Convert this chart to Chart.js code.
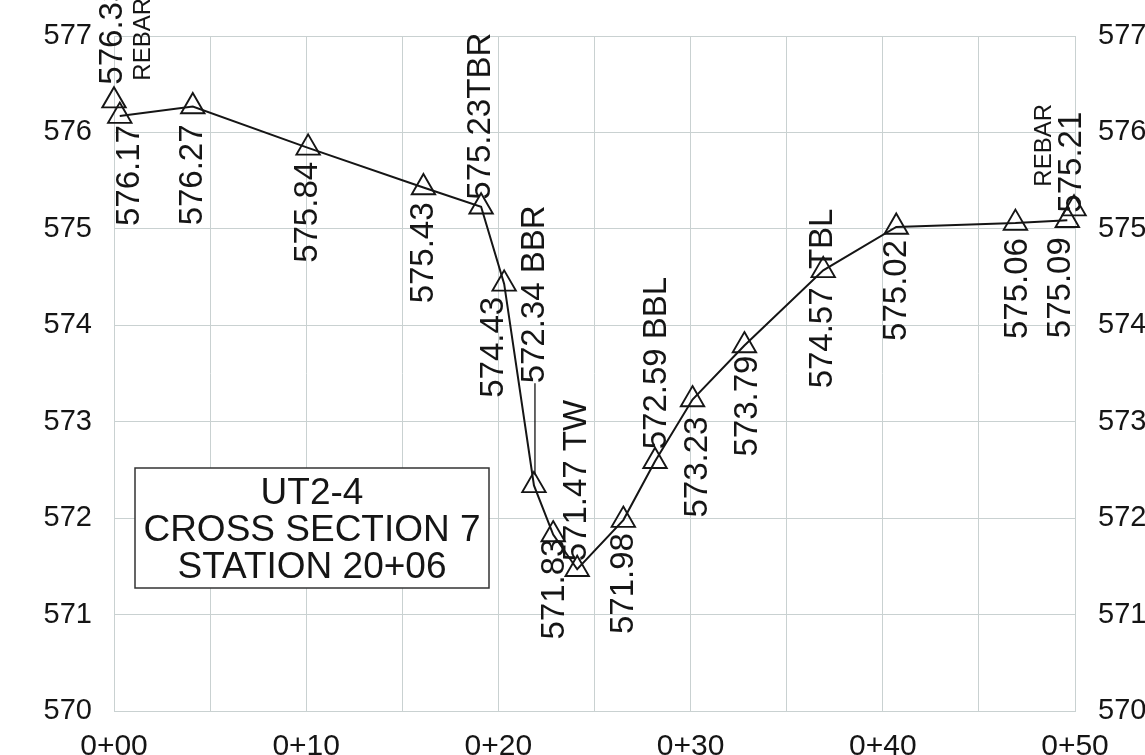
<!DOCTYPE html>
<html>
<head>
<meta charset="utf-8">
<script src="https://cdn.jsdelivr.net/npm/chart.js@4"></script>
<style>
  html, body { margin: 0; padding: 0; background: #fff; }
  #wrap { width: 1145px; height: 755px; }
</style>
</head>
<body>
<div id="wrap"><canvas id="chart" width="1145" height="755"></canvas></div>
<script>
// surveyed ground line : station (ft from 0+00) and elevation (ft)
const stations = [0.3, 4.1, 10.1, 16.1, 19.1, 20.3, 21.85, 22.85, 24.1, 26.5, 28.15, 30.1, 32.8, 36.9, 40.7, 46.9, 49.6];
const elevations = [576.17, 576.27, 575.84, 575.43, 575.23, 574.43, 572.34, 571.83, 571.47, 571.98, 572.59, 573.23, 573.79, 574.57, 575.02, 575.06, 575.09];
const tags = ["", "", "", "", "TBR", "", " BBR", "", " TW", "", " BBL", "", "", "  TBL", "", "", ""];

// rebar pins at both ends (not on the line)
const rebarStations = [0, 49.95];
const rebarElevations = [576.33, 575.21];
const rebarTag = "REBAR";

const stationLabels = ["0+00", "0+10", "0+20", "0+30", "0+40", "0+50"];
const boxLines = ["UT2-4", "CROSS SECTION 7", "STATION 20+06"];

const FONT = '"Liberation Sans", Arial, sans-serif';
const GRID = '#c9d1d1';
const INK = '#151515';

// where each elevation label sits (rotated text) relative to its point
const labelPlace = [
  { side: 'below', dx: 10, gap: 9 },
  { side: 'below', dx: 0, gap: 18 },
  { side: 'below', dx: 0, gap: 14 },
  { side: 'below', dx: 0, gap: 15 },
  { side: 'above', dx: 0, gap: 7 },
  { side: 'below', dx: -10, gap: 13 },
  { side: 'above', dx: 1, gap: 102, leader: true },
  { side: 'below', dx: 2, gap: 4 },
  { side: 'above', dx: 0, gap: 8 },
  { side: 'below', dx: 1, gap: 13 },
  { side: 'above', dx: 2, gap: 12 },
  { side: 'below', dx: 5, gap: 17 },
  { side: 'below', dx: 3, gap: 10 },
  { side: 'above', dx: 0, gap: -118 },
  { side: 'below', dx: 1, gap: 13 },
  { side: 'below', dx: 2, gap: 15 },
  { side: 'below', dx: -6, gap: 17 }
];
const rebarPlace = [
  { dx: -1, gap: 16, tagDx: 29, tagGap: 20 },
  { dx: -2, gap: -4, tagDx: -30, tagGap: 22 }
];

function drawUp(ctx, txt, x, y, align) {
  ctx.save();
  ctx.translate(x, y);
  ctx.rotate(-Math.PI / 2);
  ctx.textAlign = align;
  ctx.textBaseline = 'middle';
  ctx.fillText(txt, 0, 0);
  ctx.restore();
}

const pointLabels = {
  id: 'pointLabels',
  afterDatasetsDraw(chart) {
    const ctx = chart.ctx;
    ctx.save();
    ctx.fillStyle = INK;
    ctx.strokeStyle = INK;
    ctx.lineWidth = 1.3;
    ctx.font = '33px ' + FONT;
    chart.getDatasetMeta(0).data.forEach((p, i) => {
      const pl = labelPlace[i];
      const txt = elevations[i].toFixed(2) + tags[i];
      if (pl.side === 'below') {
        drawUp(ctx, txt, p.x + pl.dx, p.y + pl.gap, 'right');
      } else {
        drawUp(ctx, txt, p.x + pl.dx, p.y - pl.gap, 'left');
      }
      if (pl.leader) {
        ctx.beginPath();
        ctx.moveTo(p.x + pl.dx, p.y - 10);
        ctx.lineTo(p.x + pl.dx, p.y - pl.gap);
        ctx.stroke();
      }
    });
    chart.getDatasetMeta(1).data.forEach((p, i) => {
      const rp = rebarPlace[i];
      ctx.font = '33px ' + FONT;
      drawUp(ctx, rebarElevations[i].toFixed(2), p.x + rp.dx, p.y - rp.gap, 'left');
      ctx.font = '24px ' + FONT;
      drawUp(ctx, rebarTag, p.x + rp.tagDx, p.y - rp.tagGap, 'left');
    });
    ctx.restore();
  }
};

const titleBox = {
  id: 'titleBox',
  afterDraw(chart) {
    const ctx = chart.ctx;
    const left = 135, top = 468, w = 354, h = 120;
    ctx.save();
    ctx.fillStyle = '#fff';
    ctx.fillRect(left, top, w, h);
    ctx.strokeStyle = '#333';
    ctx.lineWidth = 1.5;
    ctx.strokeRect(left, top, w, h);
    ctx.fillStyle = INK;
    ctx.font = '37px ' + FONT;
    ctx.textAlign = 'center';
    ctx.textBaseline = 'alphabetic';
    boxLines.forEach((line, i) => {
      ctx.fillText(line, left + w / 2, top + 36 + i * 37);
    });
    ctx.restore();
  }
};

const ctx = document.getElementById('chart').getContext('2d');
new Chart(ctx, {
  type: 'line',
  data: {
    datasets: [
      {
        data: stations.map((s, i) => ({ x: s, y: elevations[i] })),
        borderColor: INK,
        borderWidth: 2,
        tension: 0,
        pointStyle: 'triangle',
        pointRadius: 13.5,
        pointBorderColor: INK,
        pointBorderWidth: 1.9,
        pointBackgroundColor: 'rgba(0,0,0,0)',
        clip: false
      },
      {
        data: rebarStations.map((s, i) => ({ x: s, y: rebarElevations[i] })),
        showLine: false,
        pointStyle: 'triangle',
        pointRadius: 13.5,
        pointBorderColor: INK,
        pointBorderWidth: 1.9,
        pointBackgroundColor: 'rgba(0,0,0,0)',
        clip: false
      }
    ]
  },
  options: {
    responsive: false,
    animation: false,
    layout: { autoPadding: false, padding: { top: 36, left: 0, right: 0, bottom: 0 } },
    plugins: { legend: { display: false }, tooltip: { enabled: false } },
    scales: {
      x: {
        type: 'linear',
        min: 0,
        max: 50,
        grid: { color: GRID, lineWidth: 1, drawTicks: false },
        border: { color: GRID },
        ticks: {
          stepSize: 5,
          autoSkip: false,
          maxRotation: 0,
          padding: 18,
          color: INK,
          font: { family: FONT, size: 30 },
          callback: (v) => (v % 10 === 0 ? stationLabels[v / 10] : '')
        },
        afterFit: (s) => { s.height = 44; }
      },
      y: {
        position: 'left',
        min: 570,
        max: 577,
        grid: { color: GRID, lineWidth: 1, drawTicks: false },
        border: { color: GRID },
        ticks: { stepSize: 1, padding: 22, color: INK, font: { family: FONT, size: 29, lineHeight: 0.9 } },
        afterFit: (s) => { s.width = 114; }
      },
      y2: {
        position: 'right',
        min: 570,
        max: 577,
        grid: { display: false, drawTicks: false },
        border: { color: GRID },
        ticks: { stepSize: 1, padding: 23, color: INK, font: { family: FONT, size: 29, lineHeight: 0.9 } },
        afterFit: (s) => { s.width = 70; }
      }
    }
  },
  plugins: [pointLabels, titleBox]
});
</script>
</body>
</html>
